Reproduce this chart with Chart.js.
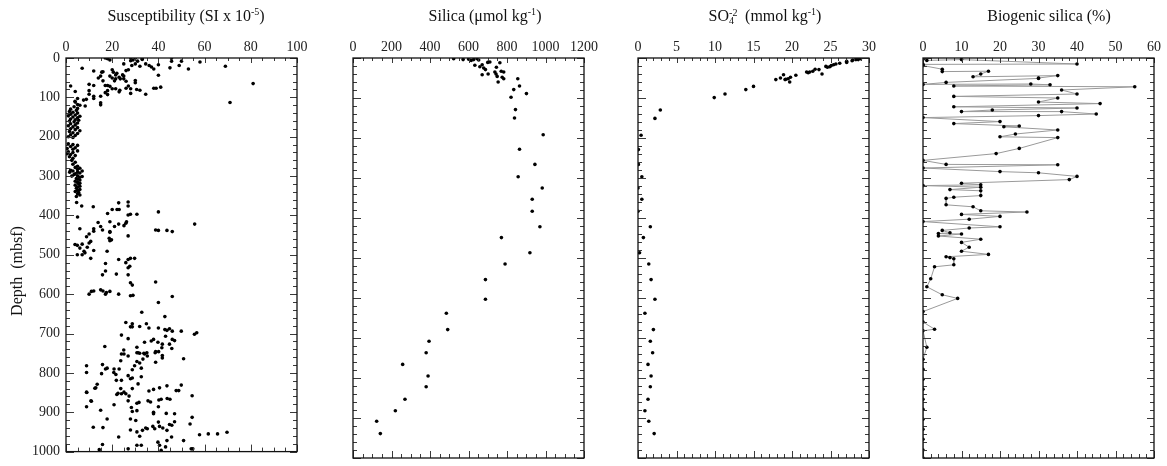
<!DOCTYPE html>
<html>
<head>
<meta charset="utf-8">
<script src="https://cdn.jsdelivr.net/npm/chart.js@4/dist/chart.umd.min.js"></script>
<style>
  html, body { margin: 0; padding: 0; background: #fff; overflow: hidden; }
  #wrap { position: relative; width: 1167px; height: 466px; }
  canvas { position: absolute; top: 0; }
  .title { position: absolute; top: 6px; width: 300px; text-align: center; font: 16px 'Liberation Serif', serif; line-height: 20px; color: #111; white-space: nowrap; }
  .title sup { font-size: 10px; position: relative; top: -6px; vertical-align: baseline; line-height: 0; }
  .stack { position: relative; display: inline-block; width: 12px; height: 1px; }
  .stack span { position: absolute; left: 0; font-size: 10px; line-height: 10px; }
  .stack .hi { top: -12.5px; }
  .stack .lo { top: -4px; }
  #ylab { position: absolute; left: -42px; top: 261px; width: 120px; height: 20px; line-height: 20px; text-align: center; font: 16px 'Liberation Serif', serif; color: #111; transform: rotate(-90deg); white-space: pre; }
</style>
</head>
<body>
<div id="wrap">
  <canvas id="chart1" width="317" height="466" style="left:0px"></canvas>
  <canvas id="chart2" width="317" height="466" style="left:287px"></canvas>
  <canvas id="chart3" width="317" height="466" style="left:572px"></canvas>
  <canvas id="chart4" width="317" height="466" style="left:857px"></canvas>
  <div class="title" style="left:36px">Susceptibility (SI x 10<sup>-5</sup>)</div>
  <div class="title" style="left:335px">Silica (&mu;mol kg<sup>-1</sup>)</div>
  <div class="title" style="left:615px">SO<span class="stack"><span class="hi">-2</span><span class="lo">4</span></span> (mmol kg<sup>-1</sup>)</div>
  <div class="title" style="left:899px">Biogenic silica (%)</div>
  <div id="ylab">Depth  (mbsf)</div>
</div>
<script>
//Data: [value, depth (mbsf)]
const susceptibility = [
  [17,0],[18,2],[19,5],[25,15],[28,0],[28,7],[29,5],[30,0],[31,8],[33,4],[33,2],[27,30],[26,32],[28.5,19],[30,15],[32,21],[34.5,15],[36,19],[37,23],[38,28],[40,17],[45.7,0],[45.7,8],[45,25],[50,8],[49,19],[53,28],[58,10],[69,21],[81,65],[71,113],
  [7,26],[12,33],[15.5,36],[16,35],[20,30],[20.5,36],[22,39],[21.5,43],[19,46],[15,46],[14,51],[16,58],[20,51],[21,58],[21.5,53],[23,49],[23.5,53],[24.5,43],[25,53],[26,59],[25,46],[17,70],[18,70],[19,72],[20,78],[21.5,78],[18,83],[17,88],[18,93],[15,97],[15,114],[15,119],[12,97],[12,103],[10,92],[10,67],[10,83],[12,70],[7.6,107],[8.8,105],[8.3,122],[5,103],[4,85],[2,71],[3.9,110],[23,86],[23.3,82],[26,77],[27,71],[28,78],[28,90],[30,57],[30,63],[30.6,80],[32,82],[34.5,92],[38,77],[39,77],[41,74],[40,44],
  [4,112],[5,118],[6,120],[3.5,124],[5,128],[2,130],[4.5,133],[1.5,136],[3,138],[5,140],[2,143],[4,145],[1,147],[6,148],[3,150],[5,152],[2,155],[4,157],[5.5,158],[1.5,160],[3.5,162],[5,165],[2,167],[4,170],[1,172],[3,175],[5,177],[2,180],[4,182],[6,185],[1.5,187],[3,190],[5,192],[2,195],[4,197],[1,200],[3,202],
  [1,218],[3,220],[5,222],[2,225],[4,228],[0.5,230],[3,232],[5,236],[1,238],[3,240],[0.5,243],[2,245],[4,248],[1.5,251],[3,255],[2.5,260],
  [4,265],[3,270],[5,275],[4,278],[6,280],[2,285],[5,283],[3,287],[7,287],[5,290],[1.6,290],[6,292],[4,294],[3.5,296],[5,299],[2.5,300],[7,301],[6,303],[4.5,306],[5,308],[6,310],[4,313],[5,316],[6,318],[5.5,320],[4,323],[6,326],[5,328],[4.5,331],[6,334],[5,336],[4,339],[5.5,342],[5,345],[6,348],[4.5,352],[4.6,367],[6.8,376],[5,404],
  [11.8,378],[22.8,368],[26.9,366],[26.9,376],[20,385],[22.1,385],[23,385],[18,395],[26.9,399],[27.9,397],[30.7,397],[40,391],[13.9,418],[15,428],[15.8,437],[19,416],[22.8,422],[21,428],[25.1,426],[25.9,420],[26.2,416],[19,441],[19,443],[26.9,452],[18.7,458],[19.7,462],[19,464],[38.8,437],[40,438],[43.7,438],[46,441],[55.7,422],[6,434],[12,434],[12,440],[10,447],[8.9,454],[10.7,466],[10,470],[7,473],[3.9,474],[4.9,476],[9.2,481],[6,483],[7.8,491],[12,489],[17.8,491],[4.9,500],[7,500],
  [8.2,495],[10.7,509],[22.8,512],[25.9,520],[26.9,512],[27.9,509],[29.7,509],[27.6,529],[26.9,533],[17.1,522],[17.1,541],[15.8,551],[21.8,549],[26.9,551],[27.9,571],[28.7,577],[38.8,569],[10,600],[11,593],[12,592],[15,589],[16,592],[17.1,600],[17.5,596],[19,593],[22.8,600],[27.9,604],[29,603],[40,621],[46,606],[32.8,646],[42.8,657],
  [25.9,672],[28.7,675],[27.9,683],[28.7,683],[31.9,682],[34.8,675],[35.9,686],[40,686],[42.8,690],[43.7,692],[44.8,688],[46,694],[43.1,707],[49.9,694],[55.6,702],[56.6,698],[24,704],[26.9,713],[34,722],[36.9,719],[37.9,715],[39.8,722],[41.7,727],[46,715],[47,718],[44.8,727],[45.8,738],[41.5,736],[40.1,746],[38.8,746],[30.7,735],[35,749],[25,742],[30.7,749],[31.9,750],[33.7,750],[24,752],[16.8,733],[25.1,752],[26.9,757],[31.2,749],[34,752],[35.2,757],[38.6,749],[41.7,756],[41.7,762],[38.8,773],[50.9,764],[23.7,769],[30.7,771],[33.3,765],[31.9,775],
  [8.9,782],[8.9,799],[15.8,779],[15.4,802],[17.1,790],[17.8,788],[20.8,790],[20.7,799],[23,790],[21.6,804],[24,819],[21.8,819],[23.7,840],[22.5,852],[25.1,849],[25.9,853],[26.9,871],[28.7,840],[27.9,815],[26.9,807],[28.7,813],[31.2,828],[32.6,810],[28.7,792],[29.7,782],[32.6,788],[12.9,838],[10.8,871],[8.9,849],[8.9,886],[11.8,938],[15,895],[17.8,917],[20.8,881],[22.8,963],[24,853],[27.3,859],[28.3,888],[28.7,898],[30.7,896],[30.7,877],[31.6,875],[27.9,917],[30.2,921],[27.9,945],[30.7,950],[31.9,961],[33.1,946],[34.5,940],[35.2,942],[37.6,936],[38.4,942],[40,925],[40.5,936],[41.9,940],[43.7,946],[44.8,931],[47,924],[45.8,933],[43.4,903],[47,904],[40,886],[37.9,900],[37.9,904],[35.5,871],[36.6,874],[40.2,869],[41.2,867],[35.9,846],[37.9,842],[40.5,838],[43.7,833],[47.7,845],[48.8,845],[49.9,831],[43.8,865],[45,867],[53.7,930],[54.6,913],[54.6,858],[57.8,957],[61.6,955],[65.6,955],[69.7,951],[50.9,972],[45.7,963],[39.8,976],[43.7,972],[43.1,988],[40.5,984],[41.2,997],[54.2,993],[54.9,993],[32.6,984],[30.7,984],[26.9,993],[15.8,982],[14.4,995],[16,939],[13.5,829],[12.5,839],[9,850],[11,872],[22,855]
];

const silica = [
  [523,2],[572,4],[601,3],[614,6],[627,4],[645,2],[653,5],[633,18],[659,22],[671,17],[679,25],[688,29],[700,11],[711,10],[671,42],[702,40],[745,23],[763,12],[737,35],[743,40],[749,46],[754,60],[770,33],[783,35],[775,48],[783,52],
  [856,52],[865,70],[835,79],[901,89],[821,98],[844,129],[839,150],[988,192],[865,228],[945,266],[858,297],[983,325],[931,353],[931,383],[971,422],[771,449],
  [919,487],[790,515],[688,554],[688,603],[485,638],[492,679],[395,708],[380,737],[258,766],[390,795],[380,822],[270,853],[220,882],[123,908],[142,939]
];

const sulfate = [
  [28.9,2],[28.6,4],[28.3,4],[27.9,5],[27.8,7],[27.1,11],[27.1,8],[26.2,13],[25.7,15],[25.4,17],[25.1,19],[24.9,22],[24.6,23],[24.4,21],[23.5,29],[23.9,40],[23,28],[22.7,33],[22.3,35],[22.1,37],[21.9,35],[20.5,43],[19.8,48],[19.5,52],[19.7,60],[19.2,53],[18.9,42],[19.1,54],[18.5,50],[17.9,54],
  [15,71],[14,79],[11.3,90],[9.9,99],[2.9,130],[2.2,151],[0.4,193],[0.05,229],[0.05,266],[0.5,297],[0,325],[0.5,353],[0,383],[1.6,422],[0.7,449],
  [0.2,487],[1.4,515],[1.7,554],[2.2,603],[0.9,638],[2.0,679],[1.6,708],[1.9,737],[1.3,766],[1.7,795],[1.6,822],[1.3,853],[0.9,882],[1.4,908],[2.1,939]
];

const biogenicSilica = [
  [0,3],[1,6],[10,4],[40,15],[0,16],[0,19],[5,28],[5,34],[17,33],[15,40],[13,47],[35,44],[30,50],[30,51],[6,61],[0,66],[28,65],[33,67],[8,70],[55,72],[36,80],[40,90],[8,96],[35,100],[30,110],[46,114],[8,122],[40,125],[18,130],[10,134],[36,134],[45,140],[30,144],[0,149],[20,159],[8,164],[25,170],[21,172],[35,180],[24,190],[20,197],[35,199],[25,226],[19,239],[0,256],[6,266],[35,267],[0,275],[20,284],[30,287],[40,296],[38,304],[10,313],[15,317],[0,319],[15,323],[7,329],[15,332],[15,344],[8,348],[6,351],[6,367],[13,372],[15,382],[27,385],[10,391],[20,396],[12,403],[0,409],[20,422],[12,425],[5,431],[7,437],[4,439],[10,440],[4,445],[15,453],[10,461],[12,473],[10,483],[17,491],[6,497],[7,499],[8,502],[8,517],[3,522],[2,552],[1,572],[5,592],[9,601],[0,634],[0,660],[3,678],[0,682],[1,723],[0,753],[0,778],[0,803],[0,828],[0,853],[0,878],[0,903],[0,928],[0,953],[0,980],[0,1000]
];

//Axis ranges
const depthMax = 1000;
const xMax = [100, 1200, 30, 60];
const xStep = [20, 200, 5, 10];
const xMinor = [5, 50, 1, 2];

//Inward tick marks and frame, placed through the chart scales
const frameTicks = {
  id: 'frameTicks',
  afterDraw(chart, args, opts) {
    const {ctx, chartArea: a, scales: {x, y}} = chart;
    ctx.save();
    ctx.strokeStyle = '#3a3a3a';
    ctx.lineWidth = 1;
    ctx.beginPath();
    for (let v = x.min; v <= x.max + 1e-9; v += opts.minor) {
      const px = Math.round(x.getPixelForValue(v)) + 0.5;
      const major = Math.abs(v / opts.major - Math.round(v / opts.major)) < 1e-6;
      ctx.moveTo(px, a.top); ctx.lineTo(px, a.top + (major ? 5 : 3));
      ctx.moveTo(px, a.bottom); ctx.lineTo(px, a.bottom - (major ? 7 : 4));
    }
    for (let v = 0; v <= depthMax; v += 20) {
      const py = Math.round(y.getPixelForValue(v)) + 0.5;
      const major = v % 100 === 0;
      ctx.moveTo(a.left, py); ctx.lineTo(a.left + (major ? 8 : 4), py);
      ctx.moveTo(a.right, py); ctx.lineTo(a.right - (major ? 7 : 4), py);
    }
    ctx.stroke();
    ctx.strokeStyle = '#111';
    ctx.lineWidth = 1.3;
    ctx.strokeRect(a.left, a.top, a.right - a.left, a.bottom - a.top);
    ctx.restore();
  }
};

const tickFont = {family: "'Liberation Serif', serif", size: 14};

function makePanel(el, points, i, showDepth, withLine) {
  return new Chart(el, {
    type: 'scatter',
    data: {
      datasets: [{
        data: points.map(p => ({x: p[0], y: p[1]})),
        showLine: withLine,
        borderColor: '#9a9a9a',
        borderWidth: 1,
        pointRadius: 1.8,
        pointBorderWidth: 0,
        pointBackgroundColor: '#000',
        backgroundColor: '#000'
      }]
    },
    options: {
      responsive: false,
      animation: false,
      layout: {padding: {left: 0, right: 20, top: 0, bottom: 8}},
      scales: {
        x: {
          type: 'linear',
          position: 'top',
          min: 0,
          max: xMax[i],
          grid: {display: false, drawTicks: false},
          border: {display: false},
          ticks: {stepSize: xStep[i], autoSkip: false, maxRotation: 0, padding: 2, color: '#222', font: tickFont,
            callback: v => String(v)},
          afterFit: s => { s.height = 58; }
        },
        y: {
          type: 'linear',
          reverse: true,
          min: 0,
          max: depthMax,
          grid: {display: false, drawTicks: false},
          border: {display: false},
          ticks: {display: showDepth, stepSize: 100, autoSkip: false, padding: 6, color: '#222', font: tickFont,
            callback: v => String(v)},
          afterFit: s => { s.width = 66; }
        }
      },
      plugins: {
        legend: {display: false},
        tooltip: {enabled: false},
        frameTicks: {major: xStep[i], minor: xMinor[i]}
      }
    },
    plugins: [frameTicks]
  });
}

const myChart1 = makePanel(document.querySelector('#chart1'), susceptibility, 0, true, false);
const myChart2 = makePanel(document.querySelector('#chart2'), silica, 1, false, false);
const myChart3 = makePanel(document.querySelector('#chart3'), sulfate, 2, false, false);
const myChart4 = makePanel(document.querySelector('#chart4'), biogenicSilica, 3, false, true);
</script>
</body>
</html>
